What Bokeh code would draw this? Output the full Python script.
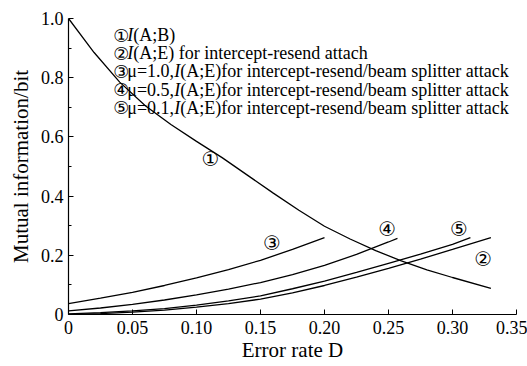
from bokeh.plotting import figure
from bokeh.models import Range1d, FixedTicker, Label, CustomJSTickFormatter
from bokeh.core.properties import value
from bokeh.embed import file_html
from bokeh.resources import INLINE

# ---- data ----
d1 = [0, 0.02, 0.04, 0.06, 0.08, 0.10, 0.12, 0.14, 0.16, 0.18, 0.20, 0.22, 0.24, 0.26, 0.28, 0.30, 0.33]
i_ab = [1.0, 0.885, 0.785, 0.705, 0.642, 0.585, 0.53, 0.47, 0.41, 0.352, 0.298, 0.255, 0.216, 0.181, 0.151, 0.125, 0.088]

d2 = [0, 0.025, 0.05, 0.075, 0.10, 0.125, 0.15, 0.175, 0.20, 0.225, 0.25, 0.275, 0.30, 0.33]
i_ae_ir = [0.0, 0.003, 0.008, 0.015, 0.025, 0.037, 0.052, 0.073, 0.098, 0.126, 0.156, 0.187, 0.22, 0.26]

d3 = [0, 0.025, 0.05, 0.075, 0.10, 0.125, 0.15, 0.175, 0.20]
i_ae_mu10 = [0.037, 0.055, 0.075, 0.098, 0.124, 0.152, 0.183, 0.22, 0.26]

d4 = [0, 0.025, 0.05, 0.075, 0.10, 0.125, 0.15, 0.175, 0.20, 0.225, 0.25, 0.257]
i_ae_mu05 = [0.012, 0.022, 0.034, 0.049, 0.066, 0.086, 0.108, 0.135, 0.166, 0.203, 0.245, 0.257]

d5 = [0, 0.025, 0.05, 0.075, 0.10, 0.125, 0.15, 0.175, 0.20, 0.225, 0.25, 0.275, 0.30, 0.314]
i_ae_mu01 = [0.002, 0.006, 0.012, 0.02, 0.032, 0.046, 0.063, 0.087, 0.113, 0.142, 0.173, 0.204, 0.237, 0.26]

curve_tags = ["①", "②", "③", "④", "⑤"]
tag_x = [0.111, 0.324, 0.159, 0.249, 0.305]
tag_y = [0.525, 0.186, 0.24, 0.288, 0.29]

legend_prefix = ["", "", "μ=1.0,", "μ=0.5,", "μ=0.1,"]
legend_rest = ["(A;B)",
               "(A;E) for intercept-resend attach",
               "(A;E)for intercept-resend/beam splitter attack",
               "(A;E)for intercept-resend/beam splitter attack",
               "(A;E)for intercept-resend/beam splitter attack"]

x_ticks = [0, 0.05, 0.10, 0.15, 0.20, 0.25, 0.30, 0.35]
x_tick_labels = ["0", "0.05", "0.10", "0.15", "0.20", "0.25", "0.30", "0.35"]
y_ticks = [0, 0.2, 0.4, 0.6, 0.8, 1.0]
y_tick_labels = ["0", "0.2", "0.4", "0.6", "0.8", "1.0"]
y_minor = [0.1, 0.3, 0.5, 0.7, 0.9]

SERIF = "Liberation Serif"

p = figure(width=527, height=366, output_backend="svg", toolbar_location=None,
           x_range=Range1d(0, 0.35), y_range=Range1d(0, 1.0),
           min_border_left=68, min_border_right=11, min_border_top=18, min_border_bottom=52)
p.outline_line_color = None
p.xgrid.visible = False
p.ygrid.visible = False
p.background_fill_color = "white"

for xs, ys in [(d1, i_ab), (d2, i_ae_ir), (d3, i_ae_mu10), (d4, i_ae_mu05), (d5, i_ae_mu01)]:
    p.line(xs, ys, line_color="black", line_width=1.3)

p.text(x=tag_x, y=tag_y, text=curve_tags, text_font=value("DejaVu Sans"),
       text_font_size="20px", text_align="center", text_baseline="middle", text_color="black")

lookup_code = """
let best = 0, bd = 1e9;
for (let i = 0; i < tvals.length; i++) {
  const d = Math.abs(tvals[i] - tick);
  if (d < bd) { bd = d; best = i; }
}
return tlabels[best];
"""

# axes
p.xaxis.ticker = FixedTicker(ticks=x_ticks)
p.xaxis.formatter = CustomJSTickFormatter(args=dict(tvals=x_ticks, tlabels=x_tick_labels), code=lookup_code)
p.yaxis.ticker = FixedTicker(ticks=y_ticks, minor_ticks=y_minor)
p.yaxis.formatter = CustomJSTickFormatter(args=dict(tvals=y_ticks, tlabels=y_tick_labels), code=lookup_code)
for ax in (p.xaxis, p.yaxis):
    ax.axis_line_color = "black"
    ax.axis_line_width = 1.2
    ax.major_tick_in = 5
    ax.major_tick_out = 0
    ax.minor_tick_in = 3
    ax.minor_tick_out = 0
    ax.major_tick_line_color = "black"
    ax.minor_tick_line_color = "black"
    ax.major_label_text_font = SERIF
    ax.major_label_text_font_size = "18px"
    ax.major_label_text_color = "black"
    ax.axis_label_text_font = SERIF
    ax.axis_label_text_font_style = "normal"
    ax.axis_label_text_color = "black"
    ax.axis_label_text_font_size = "21px"
p.xaxis.minor_tick_line_color = None
p.xaxis.major_label_standoff = 6
p.yaxis.major_label_standoff = 5
p.yaxis.axis_label = "Mutual information/bit"
p.yaxis.axis_label_standoff = 5
p.xaxis.axis_label = "Error rate D"
p.xaxis.axis_label_standoff = 1

# legend block
row_y = [0.943, 0.882, 0.821, 0.760, 0.699]
x0 = 0.035
for tag, pre, rest, yy in zip(curve_tags, legend_prefix, legend_rest, row_y):
    p.add_layout(Label(x=x0, y=yy, text=tag, text_font="DejaVu Sans", text_font_size="18px",
                       text_baseline="middle", text_color="black"))
    off = 14
    if pre:
        p.add_layout(Label(x=x0, y=yy, x_offset=off, text=pre, text_font=SERIF, text_font_size="18px",
                           text_baseline="middle", text_color="black"))
        off += 47
    p.add_layout(Label(x=x0, y=yy, x_offset=off, text="I", text_font=SERIF, text_font_size="18px",
                       text_font_style="italic", text_baseline="middle", text_color="black"))
    p.add_layout(Label(x=x0, y=yy, x_offset=off + 6, text=rest, text_font=SERIF, text_font_size="18px",
                       text_baseline="middle", text_color="black"))

open("out.html", "w").write(file_html(p, INLINE))
